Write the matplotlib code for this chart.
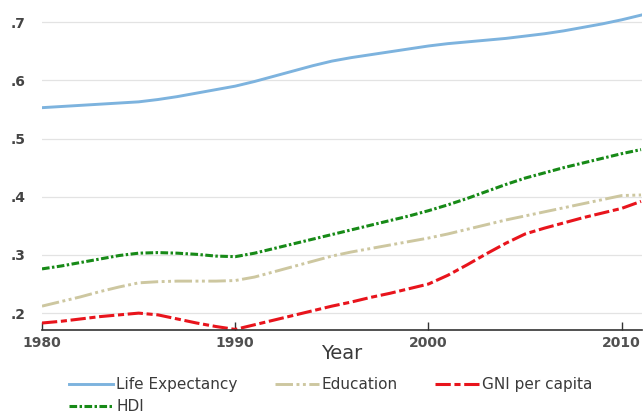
import matplotlib
matplotlib.use("Agg")
import matplotlib.pyplot as plt

plt.rcParams["font.family"] = ["DejaVu Sans"]

# yearly index values, 1980-2011
years = list(range(1980, 2012))

life_exp = [0.553, 0.555, 0.557, 0.559, 0.561, 0.563, 0.567, 0.572, 0.578, 0.584,
            0.590, 0.598, 0.607, 0.616, 0.625, 0.633, 0.639, 0.644, 0.649, 0.654,
            0.659, 0.663, 0.666, 0.669, 0.672, 0.676, 0.680, 0.685, 0.691, 0.697,
            0.704, 0.712]

education = [0.212, 0.220, 0.228, 0.237, 0.245, 0.252, 0.254, 0.255, 0.255, 0.255,
             0.256, 0.262, 0.271, 0.280, 0.289, 0.298, 0.305, 0.311, 0.317, 0.323,
             0.329, 0.336, 0.344, 0.352, 0.360, 0.367, 0.374, 0.381, 0.388, 0.395,
             0.402, 0.403]

gni = [0.183, 0.186, 0.190, 0.194, 0.197, 0.200, 0.197, 0.190, 0.183, 0.177,
       0.172, 0.180, 0.188, 0.196, 0.204, 0.212, 0.219, 0.227, 0.234, 0.242,
       0.250, 0.265, 0.283, 0.302, 0.320, 0.336, 0.346, 0.355, 0.364, 0.372,
       0.380, 0.392]

hdi = [0.276, 0.281, 0.287, 0.293, 0.299, 0.303, 0.304, 0.303, 0.301, 0.298,
       0.297, 0.303, 0.311, 0.319, 0.327, 0.335, 0.343, 0.351, 0.359, 0.367,
       0.376, 0.386, 0.397, 0.409, 0.421, 0.432, 0.441, 0.450, 0.458, 0.466,
       0.474, 0.481]

yticks = [0.2, 0.3, 0.4, 0.5, 0.6, 0.7]
ytick_labels = [".2", ".3", ".4", ".5", ".6", ".7"]
xticks = [1980, 1990, 2000, 2010]

fig = plt.figure(figsize=(6.44, 4.19), dpi=100)
ax = fig.add_axes([42 / 644, 1 - 330 / 419, 600 / 644, 330 / 419])

l_life, = ax.plot(years, life_exp, color="#7db3de", lw=2.1, label="Life Expectancy")
l_edu, = ax.plot(years, education, color="#cdc7a0", lw=2.1,
                 dashes=(6, 1.2, 1, 1.2, 1, 1.2), label="Education")
l_gni, = ax.plot(years, gni, color="#e8141c", lw=2.2,
                 dashes=(5, 1.2, 2, 1.2), label="GNI per capita")
l_hdi, = ax.plot(years, hdi, color="#178a17", lw=2.2,
                 dashes=(2.5, 0.8, 0.8, 0.8), label="HDI")

ax.set_xlim(1980, 2011.05)
ax.set_ylim(0.171, 0.738)

ax.set_yticks(yticks)
ax.set_yticklabels(ytick_labels)
ax.set_xticks(xticks)
ax.grid(axis="y", color="#e3e3e3", lw=0.9)
ax.set_axisbelow(True)

for side in ["left", "right", "top"]:
    ax.spines[side].set_visible(False)
ax.spines["bottom"].set_color("#333333")
ax.spines["bottom"].set_linewidth(1.2)

ax.tick_params(axis="y", length=0, pad=12, labelsize=10, labelcolor="#444444")
ax.tick_params(axis="x", direction="in", length=6, width=1, color="#333333",
               pad=4, labelsize=10, labelcolor="#505050")
for t in ax.get_xticklabels() + ax.get_yticklabels():
    t.set_fontweight("bold")

ax.set_xlabel("Year", fontsize=14, color="#3a3a3a", labelpad=-4)

# row-major order: Life, Education, GNI on the first row, HDI below
fig.legend([l_life, l_hdi, l_edu, l_gni],
           ["Life Expectancy", "HDI", "Education", "GNI per capita"],
           ncol=3, loc="upper left", bbox_to_anchor=(63 / 644, 1 - 371 / 419),
           frameon=False, fontsize=11, handlelength=2.9, handletextpad=0.2,
           columnspacing=2.4, labelspacing=0.45, borderaxespad=0,
           labelcolor="#3a3a3a")

fig.savefig("out.png", dpi=100)
